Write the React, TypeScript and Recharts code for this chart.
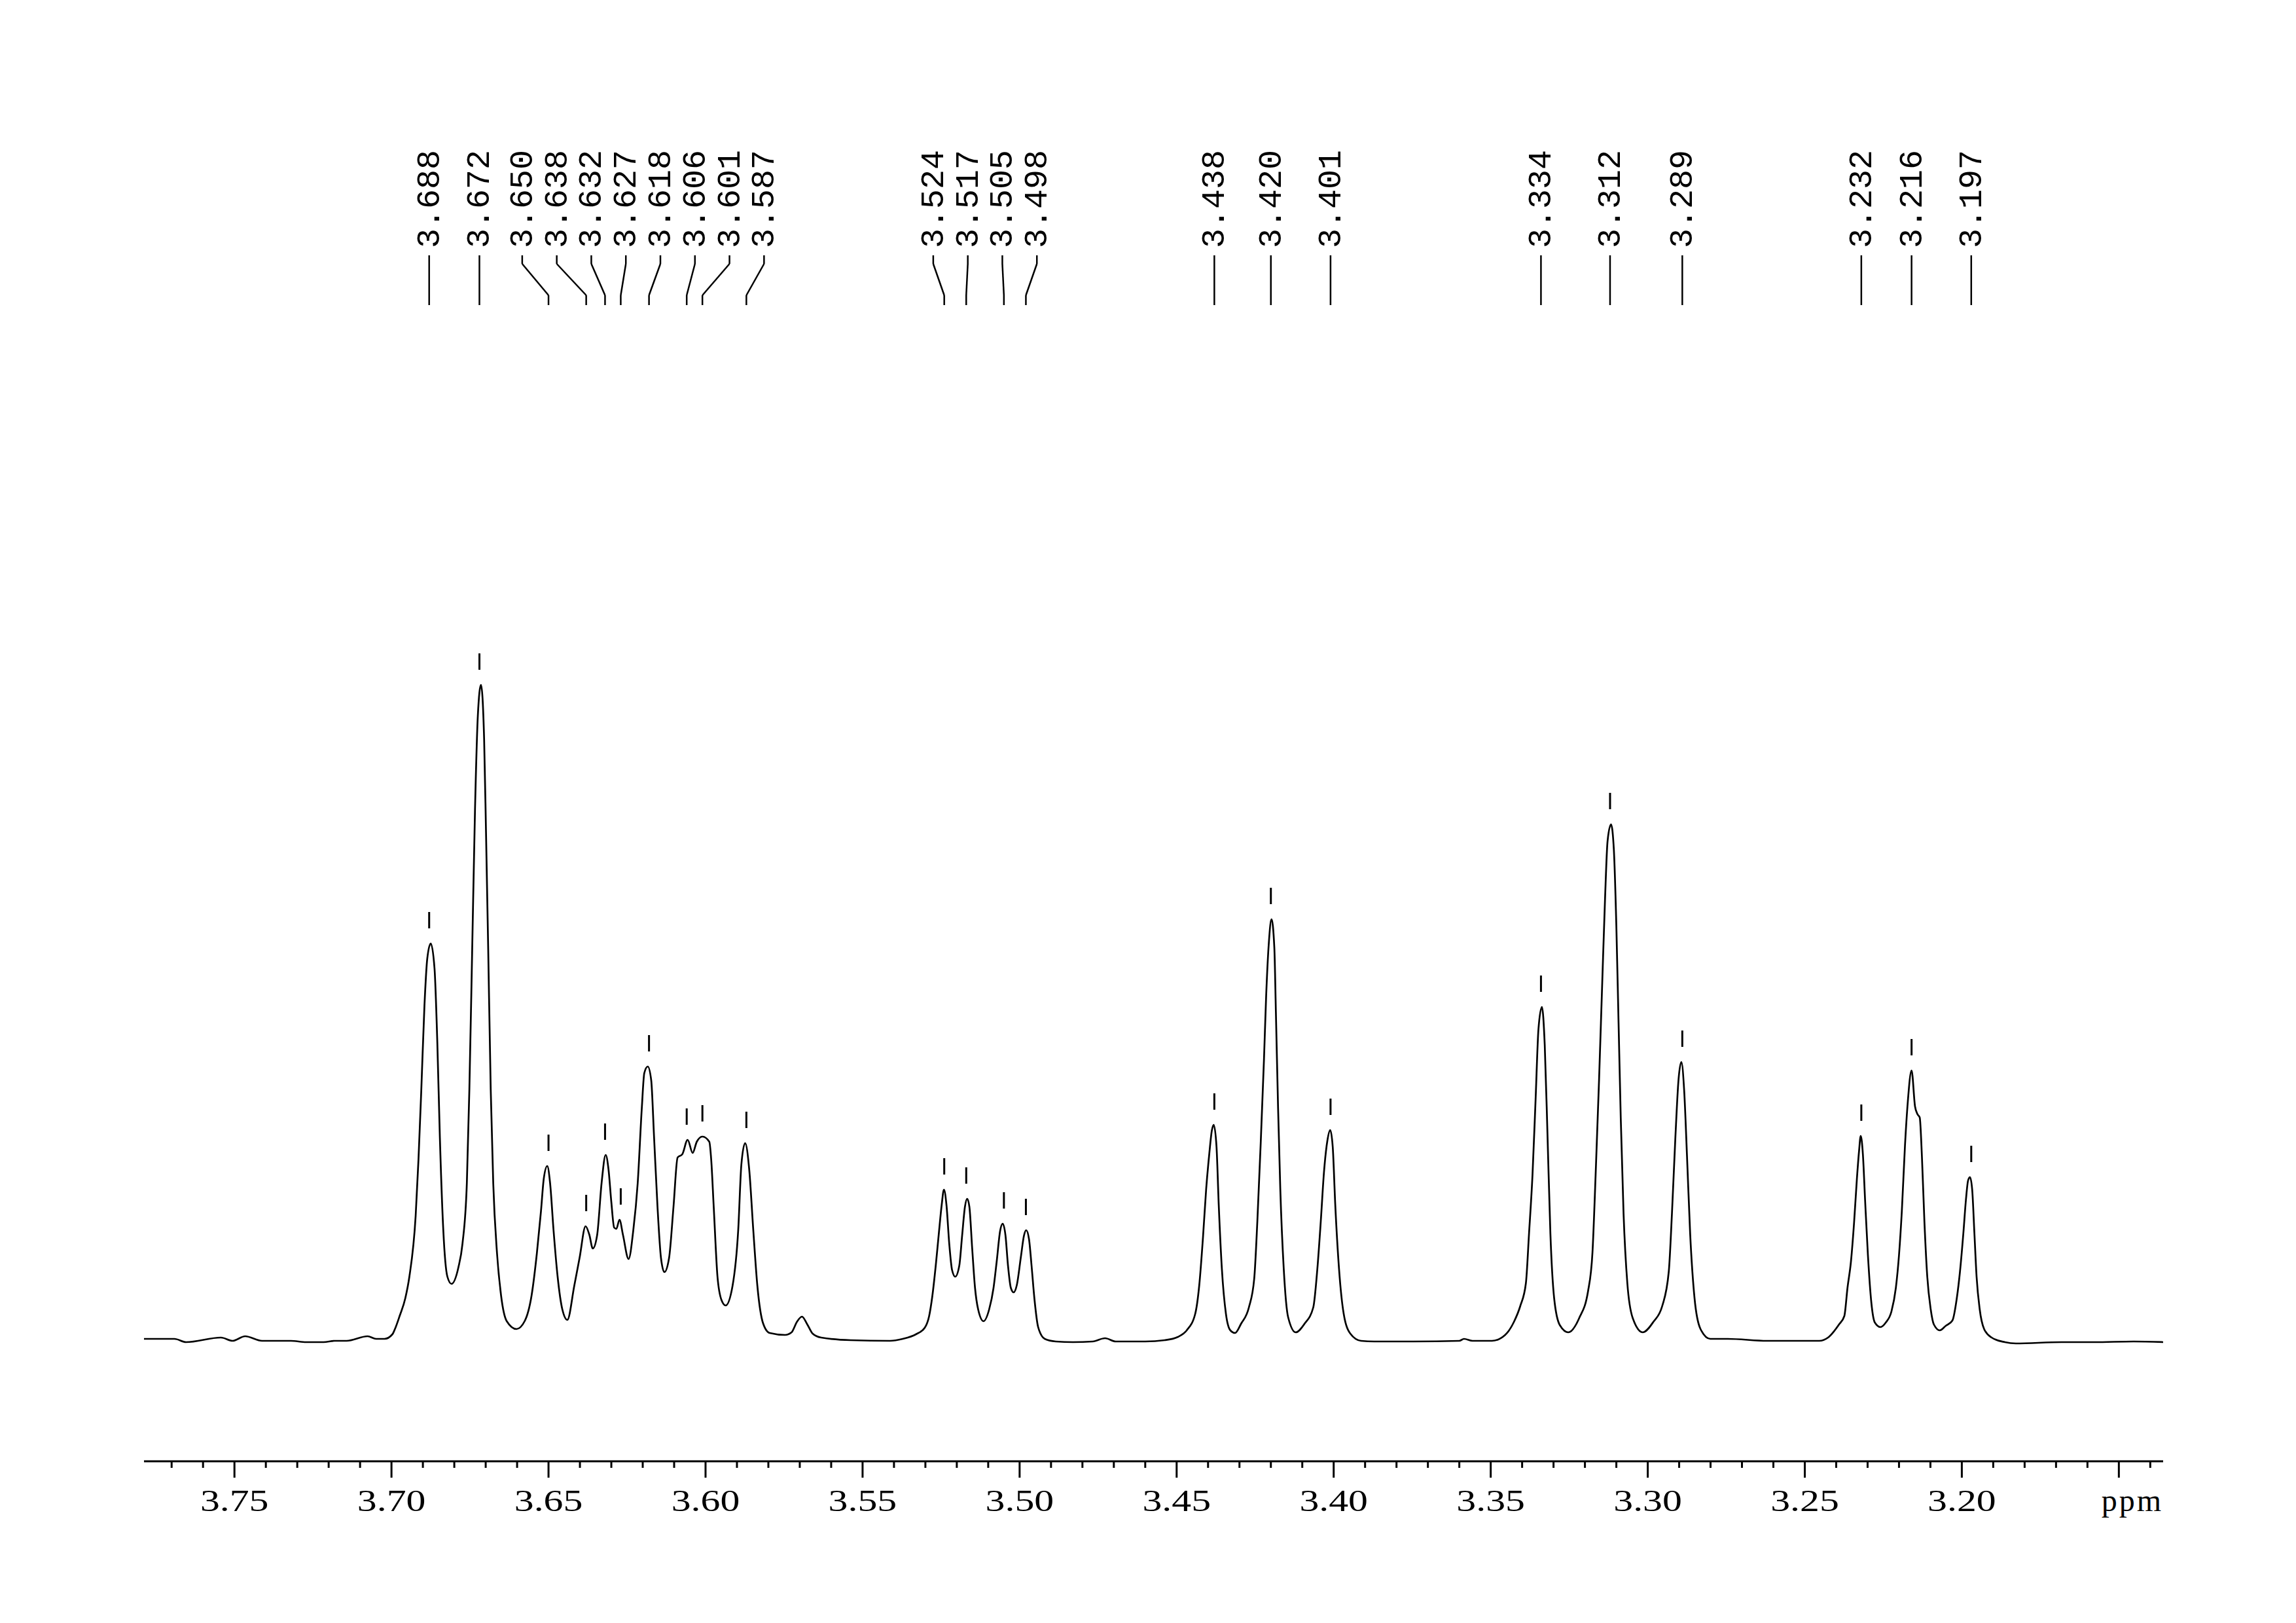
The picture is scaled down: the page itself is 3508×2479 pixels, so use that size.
import {
  Line,
  LineChart,
  ReferenceDot,
  ReferenceLine,
  XAxis,
  YAxis,
} from "recharts"

// 1H NMR spectrum, points are [chemical shift (ppm), intensity]
const baselineLeft: [number, number][] = [
  [3.7788, 2], [3.7691, 2], [3.7654, -3], [3.7543, 4], [3.7506, -1], [3.7466, 6],
  [3.7412, -1], [3.732, -1], [3.7272, -3], [3.7216, -3], [3.7181, -1], [3.7143, -1],
  [3.7076, 6], [3.7049, 2], [3.7022, 2], [3.6997, 9],
]

const multiplet369: [number, number][] = [
  [3.6989, 17], [3.6974, 37], [3.6956, 64], [3.6943, 97], [3.6923, 190], [3.6914, 276],
  [3.6905, 383], [3.6895, 511], [3.6886, 583], [3.6875, 606], [3.6863, 568], [3.6854, 454],
  [3.6846, 311], [3.6835, 168], [3.6822, 97], [3.6809, 86], [3.6787, 111], [3.6774, 147],
  [3.676, 240], [3.6752, 383], [3.6743, 597], [3.6734, 811], [3.6725, 954], [3.6715, 1001],
  [3.6705, 918], [3.6699, 776], [3.6692, 597], [3.6684, 383], [3.6676, 240], [3.6664, 133],
  [3.6651, 68], [3.6633, 29], [3.6602, 17], [3.6576, 29], [3.6554, 68], [3.6537, 133],
  [3.6524, 197], [3.6515, 247], [3.6504, 266], [3.6495, 240], [3.6484, 168], [3.6471, 97],
  [3.6456, 47], [3.644, 31], [3.6418, 83], [3.6401, 126], [3.6382, 174], [3.637, 161],
  [3.6359, 140], [3.6345, 161], [3.6331, 240], [3.6318, 283], [3.6309, 261], [3.63, 211],
  [3.6291, 172], [3.6284, 170], [3.6274, 184], [3.6263, 161], [3.6245, 124], [3.623, 168],
  [3.6216, 240], [3.6203, 354], [3.6195, 408], [3.6184, 418], [3.6173, 397], [3.6164, 311],
  [3.6153, 204], [3.6142, 126], [3.6131, 104], [3.6116, 126], [3.6102, 204], [3.6089, 279],
  [3.6074, 284], [3.6057, 306], [3.6041, 286], [3.6028, 303], [3.601, 311], [3.5988, 303],
  [3.5982, 276], [3.5974, 204], [3.5962, 97], [3.5949, 61], [3.5936, 53], [3.5914, 83],
  [3.5896, 168], [3.5886, 268], [3.5874, 301], [3.5861, 261], [3.5848, 168], [3.5835, 83],
  [3.5817, 26], [3.5796, 11], [3.5747, 8],
]

const smallPeak357: [number, number][] = [
  [3.5726, 12], [3.5709, 28], [3.5693, 36], [3.5676, 24], [3.5659, 10], [3.5632, 4],
  [3.5538, 0], [3.5413, -1], [3.5372, 2], [3.533, 9], [3.5302, 19],
]

const multiplet351: [number, number][] = [
  [3.5288, 37], [3.5278, 67], [3.5267, 114], [3.5257, 164], [3.5248, 207], [3.5241, 230],
  [3.5233, 207], [3.5224, 147], [3.5215, 107], [3.5205, 97], [3.5192, 114], [3.5183, 160],
  [3.5174, 204], [3.5167, 216], [3.516, 204], [3.5151, 140], [3.5142, 80], [3.5132, 47],
  [3.5115, 29], [3.5097, 47], [3.5083, 80], [3.5073, 120], [3.5062, 167], [3.5054, 178],
  [3.5045, 160], [3.5037, 114], [3.5028, 80], [3.5019, 73], [3.5009, 84], [3.4996, 127],
  [3.4986, 160], [3.4979, 168], [3.497, 154], [3.4962, 114], [3.4953, 64], [3.4941, 20],
  [3.492, 2], [3.4885, -2], [3.483, -3], [3.4767, -2], [3.4728, 3], [3.4694, -2],
  [3.46, -2], [3.4538, 0],
]

const triplet342: [number, number][] = [
  [3.4496, 5], [3.4468, 15], [3.4441, 40], [3.4428, 84], [3.4416, 158], [3.4406, 231],
  [3.4396, 285], [3.4388, 320], [3.4382, 329], [3.4373, 295], [3.4366, 207], [3.4356, 109],
  [3.4343, 40], [3.4329, 15], [3.4314, 11], [3.4295, 25], [3.427, 50], [3.4253, 94],
  [3.4243, 182], [3.4232, 305], [3.4222, 428], [3.4215, 526], [3.4206, 610], [3.4198, 643],
  [3.4189, 600], [3.4184, 501], [3.4177, 354], [3.417, 231], [3.4159, 109], [3.4145, 35],
  [3.4121, 12], [3.4093, 25], [3.4065, 50], [3.4052, 109], [3.4041, 182], [3.4031, 256],
  [3.402, 305], [3.4011, 321], [3.4003, 295], [3.3995, 207], [3.3983, 109], [3.3968, 40],
  [3.3947, 10], [3.3913, -1], [3.3871, -2], [3.3746, -2], [3.36, -1], [3.3585, 2],
  [3.3558, -1], [3.3496, -1],
]

const triplet331: [number, number][] = [
  [3.3454, 8], [3.3426, 28], [3.3406, 52], [3.3388, 87], [3.3378, 163], [3.3367, 252],
  [3.3357, 369], [3.3348, 475], [3.3337, 509], [3.3328, 451], [3.3319, 310], [3.331, 163],
  [3.3298, 64], [3.328, 23], [3.3253, 12], [3.3218, 34], [3.319, 75], [3.3176, 134],
  [3.3166, 252], [3.3155, 398], [3.3145, 545], [3.3136, 674], [3.3128, 762], [3.3117, 788],
  [3.3108, 750], [3.31, 633], [3.3093, 486], [3.3086, 340], [3.3077, 193], [3.3065, 87],
  [3.3048, 34], [3.3016, 12], [3.2982, 28], [3.2954, 52], [3.2933, 105], [3.2923, 193],
  [3.2912, 310], [3.2902, 398], [3.2893, 425], [3.2884, 381], [3.2875, 281], [3.2865, 163],
  [3.2851, 64], [3.2832, 17], [3.2801, 2], [3.2745, 2], [3.262, -1], [3.2516, -1],
  [3.2454, -1],
]

const triplet322: [number, number][] = [
  [3.2426, 4], [3.2391, 24], [3.2374, 37], [3.2364, 80], [3.2353, 120], [3.2343, 180],
  [3.2334, 247], [3.2327, 290], [3.2322, 312], [3.2315, 284], [3.2308, 214], [3.2299, 130],
  [3.2288, 57], [3.2277, 27], [3.2259, 20], [3.2242, 27], [3.2224, 44], [3.221, 80],
  [3.22, 130], [3.2191, 197], [3.2181, 297], [3.2172, 364], [3.216, 412], [3.2149, 357],
  [3.2141, 345], [3.2134, 340], [3.2127, 280], [3.2119, 180], [3.211, 97], [3.2099, 47],
  [3.2089, 24], [3.207, 15], [3.2051, 22], [3.203, 30], [3.2016, 64], [3.2006, 104],
  [3.1995, 164], [3.1987, 214], [3.198, 244], [3.1974, 249], [3.1967, 230], [3.196, 164],
  [3.1953, 97], [3.1943, 47], [3.1929, 17], [3.1905, 4], [3.1863, -3], [3.1828, -5],
  [3.1683, -3], [3.1578, -3], [3.1453, -2], [3.1359, -3],
]

// picked peaks
const peakShifts = [
  3.688, 3.672, 3.65, 3.638, 3.632, 3.627, 3.618, 3.606, 3.601, 3.587,
  3.524, 3.517, 3.505, 3.498, 3.438, 3.42, 3.401, 3.334, 3.312, 3.289,
  3.232, 3.216, 3.197,
]
const peakHeights = [
  606, 1001, 266, 174, 283, 184, 418, 306, 311, 301,
  230, 216, 178, 168, 329, 643, 321, 509, 788, 425,
  312, 412, 249,
]

const axisTicks = [
  3.77, 3.76, 3.75, 3.74, 3.73, 3.72, 3.71, 3.7, 3.69, 3.68, 3.67, 3.66, 3.65,
  3.64, 3.63, 3.62, 3.61, 3.6, 3.59, 3.58, 3.57, 3.56, 3.55, 3.54, 3.53, 3.52,
  3.51, 3.5, 3.49, 3.48, 3.47, 3.46, 3.45, 3.44, 3.43, 3.42, 3.41, 3.4, 3.39,
  3.38, 3.37, 3.36, 3.35, 3.34, 3.33, 3.32, 3.31, 3.3, 3.29, 3.28, 3.27, 3.26,
  3.25, 3.24, 3.23, 3.22, 3.21, 3.2, 3.19, 3.18, 3.17, 3.16, 3.15, 3.14,
]
const axisLabels = [
  "3.75", "3.70", "3.65", "3.60", "3.55", "3.50",
  "3.45", "3.40", "3.35", "3.30", "3.25", "3.20",
]

const spectrum = [
  ...baselineLeft,
  ...multiplet369,
  ...smallPeak357,
  ...multiplet351,
  ...triplet342,
  ...triplet331,
  ...triplet322,
].map(([ppm, intensity]) => ({ ppm, intensity }))

// layout (y in intensity units, 1 unit = 1 px)
const WIDTH = 3508
const HEIGHT = 2479
const X_DOMAIN: [number, number] = [3.1359, 3.7788]
const Y_DOMAIN: [number, number] = [-185, 1847]
const LABEL_TEXT_Y = 1668
const LEAD_TOP = 1657
const LEAD_BEND_TOP = 1644
const LEAD_BEND_BOTTOM = 1596
const LEAD_BOTTOM = 1581
const LABEL_GAP = 0.011

// spread peak labels so neighbours keep a minimum distance
function spreadLabels(shifts: number[], gap: number) {
  const place = (g: number[]) => {
    const mean = g.reduce((a, b) => a + b, 0) / g.length
    return g.map((_, i) => mean + gap * ((g.length - 1) / 2 - i))
  }
  const groups = shifts.map((s) => [s])
  let merged = true
  while (merged) {
    merged = false
    for (let i = 0; i < groups.length - 1; i++) {
      const a = place(groups[i])
      const b = place(groups[i + 1])
      if (a[a.length - 1] - b[0] < gap - 1e-9) {
        groups.splice(i, 2, [...groups[i], ...groups[i + 1]])
        merged = true
        break
      }
    }
  }
  return groups.flatMap(place)
}

const labelShifts = spreadLabels(peakShifts, LABEL_GAP)

function AxisTick({ x, y, payload }: any) {
  const v = payload.value as number
  const major = Math.round(v * 100) % 5 === 0
  const text = v.toFixed(2)
  return (
    <g>
      <line x1={x} x2={x} y1={y} y2={y + (major ? 25 : 10)} stroke="#000" strokeWidth={3} />
      {axisLabels.includes(text) && (
        <text
          transform={`translate(${x},${y + 76}) scale(1.3,1)`}
          textAnchor="middle"
          fontFamily="'Liberation Serif', serif"
          fontSize={46}
          fill="#000"
        >
          {text}
        </text>
      )}
    </g>
  )
}

function PpmLabel(props: any) {
  const vb = props.viewBox
  if (!vb) return null
  return (
    <text
      x={vb.x + vb.width}
      y={vb.y + 76}
      textAnchor="end"
      fontFamily="'Liberation Serif', serif"
      fontSize={48}
      letterSpacing={3}
      fill="#000"
    >
      ppm
    </text>
  )
}

function PeakLabel({ cx, cy, text }: { cx: number; cy: number; text: string }) {
  const bx = cx + 15
  return (
    <text
      x={bx}
      y={cy}
      transform={`rotate(-90 ${bx} ${cy})`}
      fontFamily="'Liberation Mono', monospace"
      fontSize={50}
      fill="#000"
    >
      {text}
    </text>
  )
}

export default function App() {
  return (
    <div style={{ position: "absolute", left: 0, top: 0, background: "#fff" }}>
      <LineChart
        width={WIDTH}
        height={HEIGHT}
        data={spectrum}
        margin={{ top: 200, right: 203, bottom: 187, left: 220 }}
      >
        <XAxis
          type="number"
          dataKey="ppm"
          domain={X_DOMAIN}
          allowDataOverflow
          reversed
          ticks={axisTicks}
          interval={0}
          tickSize={0}
          tickMargin={0}
          tickLine={false}
          tick={<AxisTick />}
          height={60}
          axisLine={{ stroke: "#000", strokeWidth: 3 }}
          label={PpmLabel}
        />
        <YAxis hide type="number" domain={Y_DOMAIN} allowDataOverflow />
        <Line
          type="monotone"
          dataKey="intensity"
          stroke="#000"
          strokeWidth={2.7}
          dot={false}
          activeDot={false}
          isAnimationActive={false}
        />
        {peakShifts.map((p, i) => (
          <ReferenceLine
            key={`mark-${i}`}
            segment={[
              { x: p, y: peakHeights[i] + 23 },
              { x: p, y: peakHeights[i] + 48 },
            ]}
            stroke="#000"
            strokeWidth={3}
          />
        ))}
        {peakShifts.map((p, i) => (
          <ReferenceLine
            key={`lead-a-${i}`}
            segment={[
              { x: labelShifts[i], y: LEAD_TOP },
              { x: labelShifts[i], y: LEAD_BEND_TOP },
            ]}
            stroke="#000"
            strokeWidth={2.5}
          />
        ))}
        {peakShifts.map((p, i) => (
          <ReferenceLine
            key={`lead-b-${i}`}
            segment={[
              { x: labelShifts[i], y: LEAD_BEND_TOP },
              { x: p, y: LEAD_BEND_BOTTOM },
            ]}
            stroke="#000"
            strokeWidth={2.5}
          />
        ))}
        {peakShifts.map((p, i) => (
          <ReferenceLine
            key={`lead-c-${i}`}
            segment={[
              { x: p, y: LEAD_BEND_BOTTOM },
              { x: p, y: LEAD_BOTTOM },
            ]}
            stroke="#000"
            strokeWidth={2.5}
          />
        ))}
        {peakShifts.map((p, i) => (
          <ReferenceDot
            key={`label-${i}`}
            x={labelShifts[i]}
            y={LABEL_TEXT_Y}
            r={0}
            shape={(props: any) => (
              <PeakLabel cx={props.cx} cy={props.cy} text={p.toFixed(3)} />
            )}
          />
        ))}
      </LineChart>
    </div>
  )
}
